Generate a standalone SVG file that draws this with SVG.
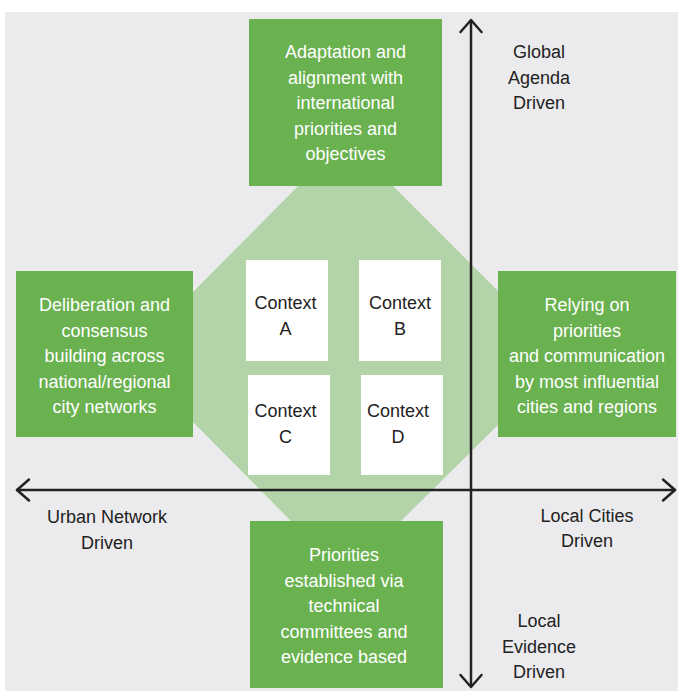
<svg xmlns="http://www.w3.org/2000/svg" width="678" height="691" viewBox="0 0 678 691">
<defs>
<style>
.bg{fill:#ebebed}
.oct{fill:#b3d4a8}
.box{fill:#6ab150}
.ctx{fill:#ffffff}
.wt{font-family:"Liberation Sans","DejaVu Sans",sans-serif;font-size:18px;fill:#ffffff;text-anchor:middle}
.dk{font-family:"Liberation Sans","DejaVu Sans",sans-serif;font-size:18px;fill:#222222;text-anchor:middle}
.ax{stroke:#222222;stroke-width:2.5;fill:none;stroke-linecap:round;stroke-linejoin:round}
</style>
</defs>
<rect class="bg" x="5" y="12" width="673" height="679"/>
<polygon id="octagon" class="oct" points="298,186 393,186 498,291 498,425 400,522 292,522 193,422 193,292"/>
<g id="connectors">
<line class="ax" x1="471" y1="21" x2="471" y2="686"/>
<polyline class="ax" points="460.5,32 471,20 481.5,32"/>
<polyline class="ax" points="460.5,675 471,687 481.5,675"/>
<line class="ax" x1="17" y1="490" x2="675" y2="490"/>
<polyline class="ax" points="29,479.5 17,490 29,500.5"/>
<polyline class="ax" points="663,479.5 675,490 663,500.5"/>
</g>
<g id="node-top">
<rect class="box" x="249" y="19" width="193" height="167"/>
<text class="wt" x="345.5" y="58">Adaptation and</text>
<text class="wt" x="345.5" y="83.5">alignment with</text>
<text class="wt" x="345.5" y="109">international</text>
<text class="wt" x="345.5" y="134.5">priorities and</text>
<text class="wt" x="345.5" y="160">objectives</text>
</g>
<g id="node-left">
<rect class="box" x="16" y="271" width="177" height="166"/>
<text class="wt" x="104.5" y="311">Deliberation and</text>
<text class="wt" x="104.5" y="336.5">consensus</text>
<text class="wt" x="104.5" y="362">building across</text>
<text class="wt" x="104.5" y="387.5">national/regional</text>
<text class="wt" x="104.5" y="413">city networks</text>
</g>
<g id="node-right">
<rect class="box" x="498" y="271" width="178" height="166"/>
<text class="wt" x="587" y="311">Relying on</text>
<text class="wt" x="587" y="336.5">priorities</text>
<text class="wt" x="587" y="362">and communication</text>
<text class="wt" x="587" y="387.5">by most influential</text>
<text class="wt" x="587" y="413">cities and regions</text>
</g>
<g id="node-bottom">
<rect class="box" x="250" y="521" width="193" height="167"/>
<text class="wt" x="344" y="561">Priorities</text>
<text class="wt" x="344" y="586.5">established via</text>
<text class="wt" x="344" y="612">technical</text>
<text class="wt" x="344" y="637.5">committees and</text>
<text class="wt" x="344" y="663">evidence based</text>
</g>
<g id="context-a">
<rect class="ctx" x="246" y="260" width="82" height="101"/>
<text class="dk" x="285.5" y="309">Context</text>
<text class="dk" x="285.5" y="335">A</text>
</g>
<g id="context-b">
<rect class="ctx" x="359" y="260" width="82" height="101"/>
<text class="dk" x="400" y="309">Context</text>
<text class="dk" x="400" y="335">B</text>
</g>
<g id="context-c">
<rect class="ctx" x="248" y="375" width="82" height="100"/>
<text class="dk" x="285.5" y="417">Context</text>
<text class="dk" x="285.5" y="443">C</text>
</g>
<g id="context-d">
<rect class="ctx" x="361" y="375" width="82" height="100"/>
<text class="dk" x="398" y="417">Context</text>
<text class="dk" x="398" y="443">D</text>
</g>
<g id="label-global">
<text class="dk" x="539" y="58">Global</text>
<text class="dk" x="539" y="83.5">Agenda</text>
<text class="dk" x="539" y="109">Driven</text>
</g>
<g id="label-urban">
<text class="dk" x="107" y="523">Urban Network</text>
<text class="dk" x="107" y="549">Driven</text>
</g>
<g id="label-local-cities">
<text class="dk" x="587" y="521.5">Local Cities</text>
<text class="dk" x="587" y="547">Driven</text>
</g>
<g id="label-local-evidence">
<text class="dk" x="539" y="627">Local</text>
<text class="dk" x="539" y="652.5">Evidence</text>
<text class="dk" x="539" y="678">Driven</text>
</g>
</svg>
